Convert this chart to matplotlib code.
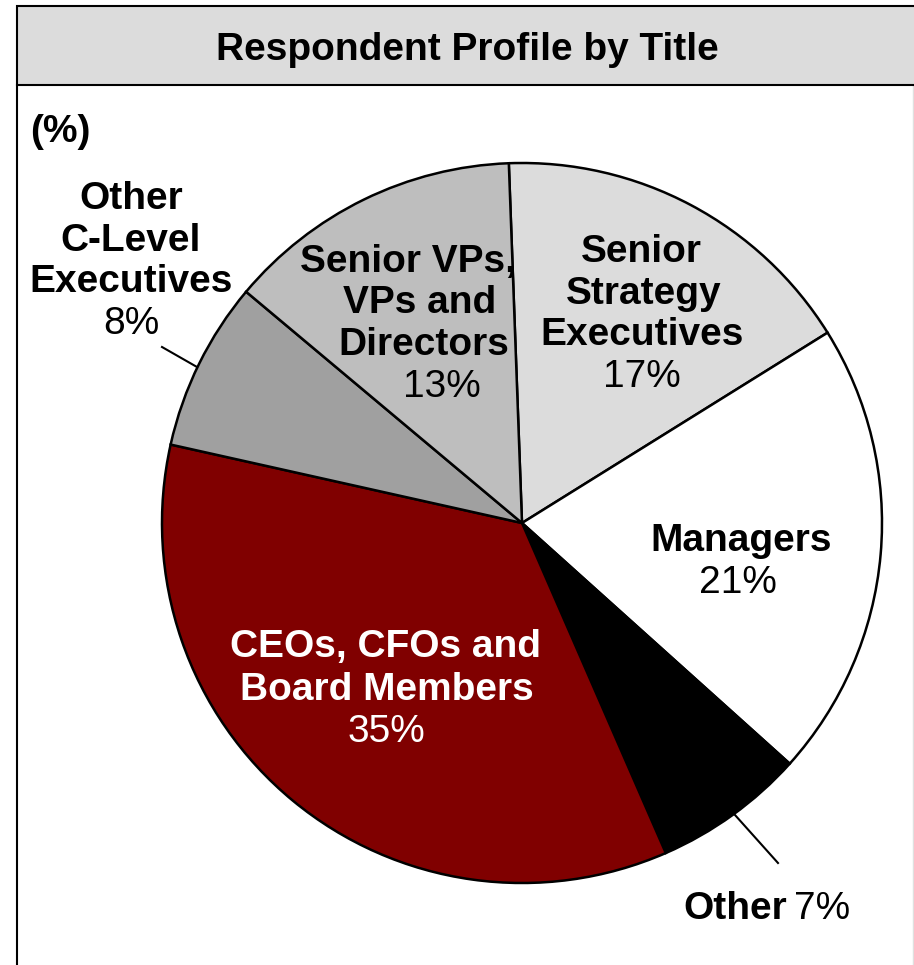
import matplotlib.pyplot as plt
from matplotlib.patches import Rectangle

plt.rcParams['font.family'] = ['Liberation Sans', 'DejaVu Sans']

W, H = 914, 965

# Data (shares; labels as printed)
titles = ['Senior Strategy Executives', 'Managers', 'Other',
          'CEOs, CFOs and Board Members', 'Other C-Level Executives',
          'Senior VPs, VPs and Directors']
shares = [16.7, 20.5, 6.8, 35.0, 7.6, 13.3]
pct_labels = ['17%', '21%', '7%', '35%', '8%', '13%']
colors = ['#dcdcdc', '#ffffff', '#000000', '#800000', '#a0a0a0', '#bebebe']

fs = 28
CAP = 14  # half cap height in px, to put text on its baseline


def Y(y):
    # pixel row from top -> data y
    return H - y


def label(x, y, txt, bold=True, color='black', ha='center'):
    # y is the visual middle of the capitals
    ax.text(x, Y(y + CAP), txt, ha=ha, va='baseline', fontsize=fs,
            fontweight='bold' if bold else 'normal', color=color, zorder=6)


fig = plt.figure(figsize=(W / 100, H / 100), dpi=100)
ax = fig.add_axes([0, 0, 1, 1])

ax.pie(shares, colors=colors, startangle=92.1, counterclock=False,
       center=(522, Y(523)), radius=360,
       wedgeprops=dict(edgecolor='black', linewidth=1.8))
ax.set_xlim(0, W)
ax.set_ylim(0, H)
ax.set_aspect('auto')
ax.axis('off')

# frame and title box
ax.add_patch(Rectangle((17, Y(85)), W, 79, facecolor='#dcdcdc',
                       edgecolor='black', linewidth=1.5, zorder=5))
ax.plot([17, 17], [Y(85), 0], color='black', linewidth=1.5)
ax.plot([913, 913], [Y(85), 0], color='#e0e0e0', linewidth=1)
label(467, 46, 'Respondent Profile by Title')
label(30, 128, '(%)', ha='left')

# Senior Strategy Executives
for txt, x, y in [('Senior', 641, 248), ('Strategy', 644, 290), ('Executives', 642, 331)]:
    label(x, y, txt)
label(642, 373, pct_labels[0], bold=False)

# Managers
label(741, 537, 'Managers')
label(738, 579, pct_labels[1], bold=False)

# Other (outside label with leader line)
ax.plot([735, 778], [Y(815), Y(863)], color='black', linewidth=1.5)
label(683, 905, 'Other', ha='left')
label(850, 905, pct_labels[2], bold=False, ha='right')

# CEOs, CFOs and Board Members
label(385, 643, 'CEOs, CFOs and', color='white')
label(387, 686, 'Board Members', color='white')
label(386, 728, pct_labels[3], bold=False, color='white')

# Other C-Level Executives (outside label with leader line)
ax.plot([162, 197], [Y(347), Y(367)], color='black', linewidth=1.5)
for txt, y in [('Other', 195), ('C-Level', 237), ('Executives', 278)]:
    label(131, y, txt)
label(131, 320, pct_labels[4], bold=False)

# Senior VPs, VPs and Directors
for txt, x, y in [('Senior VPs,', 408, 258), ('VPs and', 420, 299), ('Directors', 424, 341)]:
    label(x, y, txt)
label(442, 383, pct_labels[5], bold=False)

fig.savefig('out.png', dpi=100)
